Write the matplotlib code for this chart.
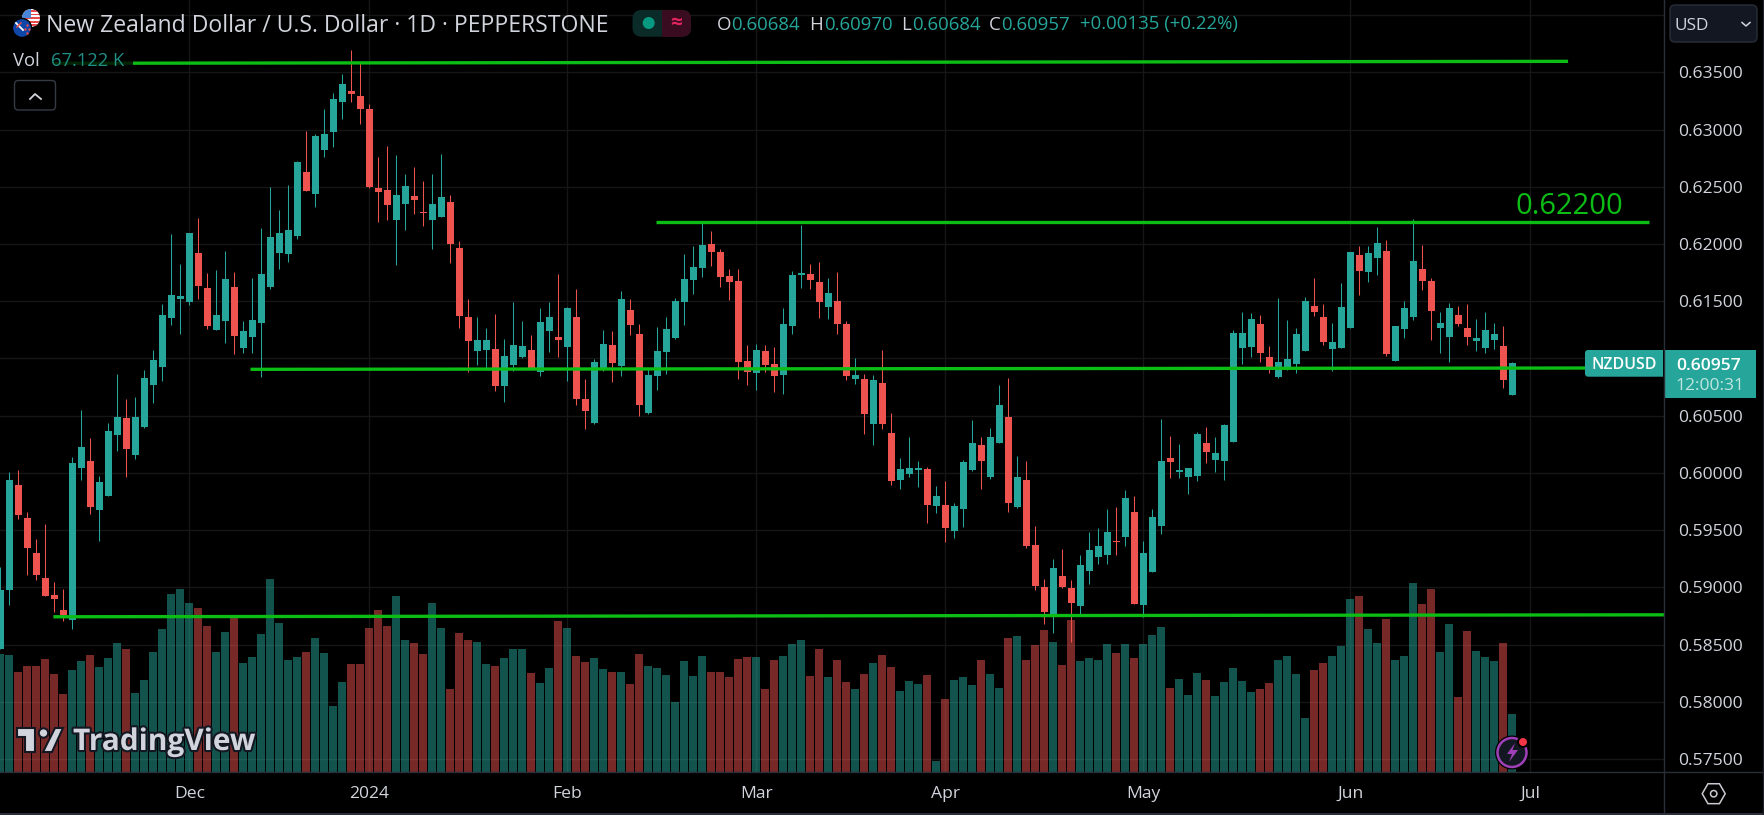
# -*- coding: utf-8 -*-
import numpy as np
import matplotlib as mpl
mpl.use("Agg")
import matplotlib.pyplot as plt
import matplotlib.patheffects as pe
from matplotlib.patches import Circle, Polygon, Rectangle, FancyBboxPatch

# daily NZD/USD candles, prices in 1e-5 units
opens = [58458,58974,59893,59604,59298,59079,58930,58799,58712,60042,
         60103,59674,59797,60331,60479,60156,60401,60768,60926,61354,
         61521,61494,61923,61617,61249,61328,61626,61092,61188,61311,
         61621,61919,61910,62068,62628,62435,62820,62978,63240,63337,
         63293,63179,62488,62470,62208,62348,62418,62284,62213,62239,
         62363,61968,61364,61067,61075,61084,60760,60944,61014,61075,
         60883,61242,61189,61102,61364,60647,60437,60909,61119,60935,
         61425,61215,60524,60848,61058,61180,61495,61688,61793,62003,
         61933,61723,61679,60979,60874,61067,60953,60857,61285,61732,
         61740,61670,61452,61504,61303,60822,60819,60425,60784,60346,
         59935,59987,60022,60031,59707,59716,59489,59681,60022,60241,
         59961,60259,60486,59699,59935,59366,59007,58745,59095,58998,
         58841,59147,59261,59279,59401,59436,59655,58850,59130,59532,
         60127,60005,59961,59970,60259,60110,60101,60270,61093,61102,
         61303,61014,60839,60909,60953,61067,61460,61364,61084,61093,
         61268,61907,61758,61880,61942,60979,61259,61364,61784,61679,
         61268,61189,61382,61268,61154,61093,61163,61110,60684]
highs = [59178,60007,60024,59657,59420,59552,59044,58983,60138,60549,
         60304,59972,60436,60864,60646,60663,60899,61074,61477,62090,
         61827,62098,62230,61748,61775,61941,61757,61328,61705,62142,
         62497,62295,62514,62724,62987,62960,63179,63319,63485,63695,
         63590,63223,62759,62855,62777,62610,62672,62547,62608,62783,
         62424,62029,61522,61364,61268,61390,61172,61495,61329,61207,
         61443,61495,61740,61452,61609,60822,60997,61250,61242,61592,
         61522,61303,60909,61277,61364,61530,61915,61985,62195,62117,
         61959,61784,61784,61119,61128,61119,61102,61443,61767,62169,
         61828,61845,61705,61758,61329,61005,60862,60854,61072,60521,
         60127,60311,60101,60049,59882,59926,59734,60110,60460,60311,
         60390,60766,60827,60145,60101,59532,59069,59252,59331,59060,
         59287,59480,59515,59681,59699,59847,59795,59401,59681,60469,
         60320,60250,60040,60355,60399,60311,60425,61250,61408,61399,
         61382,61110,61530,61338,61268,61539,61705,61478,61312,61662,
         61933,61985,61985,62152,62038,61285,61504,62222,61994,61705,
         61408,61487,61460,61478,61347,61408,61312,61285,60970]
lows = [58458,58843,59596,59105,59062,58922,58782,58703,58633,59937,
        59639,59403,59797,60191,59963,60121,60392,60611,60803,61293,
        61214,61468,61521,61258,61249,61136,61039,61048,61048,60838,
        61604,61779,61840,62042,62462,62322,62759,62847,63092,63240,
        63048,62488,62190,62208,61814,62120,62260,62160,61959,62239,
        61837,61268,60883,60944,60900,60717,60620,60892,61005,60900,
        60848,61058,61014,60804,60594,60384,60428,60892,60795,60848,
        61207,60498,60515,60725,60865,61172,61294,61565,61714,61810,
        61627,61513,60822,60769,60725,60883,60708,60690,61215,61618,
        61609,61355,61347,61215,60813,60778,60337,60241,60381,59891,
        59856,59961,59874,59559,59646,59392,59427,59524,60014,59856,
        59944,60259,59655,59690,59340,58981,58683,58599,58990,58520,
        58753,59025,59200,59200,59287,59357,58858,58739,59130,59462,
        59952,59952,59812,59926,60084,60005,59935,60270,60953,61014,
        60970,60874,60830,60900,60874,61067,61373,61119,60892,61093,
        61268,61557,61670,61732,61023,60979,61180,61338,61600,61163,
        61049,60970,61285,61119,61067,61049,61084,60743,60684]
closes = [58974,59937,59631,59342,59105,58922,58895,58755,60086,60226,
          59701,59919,60366,60488,60208,60488,60829,60987,61381,61556,
          61547,62098,61635,61284,61381,61696,61197,61241,61337,61740,
          62059,62094,62120,62715,62462,62943,62960,63267,63398,63310,
          63179,62497,62453,62339,62427,62505,62383,62267,62346,62407,
          62003,61373,61154,61163,61163,60760,61023,61119,61110,60900,
          61320,61364,61163,61443,60647,60542,60970,61128,60962,61522,
          61294,60594,60857,61067,61259,61504,61697,61802,61994,61933,
          61714,61670,60970,60883,61075,60944,60848,61303,61732,61749,
          61688,61495,61574,61303,60848,60857,60512,60810,60425,59926,
          60031,60040,60040,59716,59795,59515,59707,60092,60259,60101,
          60311,60591,59734,59961,59357,59016,58788,59165,59007,58867,
          59191,59322,59357,59480,59392,59777,58858,59296,59611,60101,
          60092,60022,60040,60337,60180,60171,60416,61224,61224,61347,
          61049,60909,60970,60997,61215,61504,61408,61145,61145,61452,
          61933,61767,61924,62012,61040,61285,61443,61854,61679,61417,
          61312,61443,61303,61189,61180,61250,61215,60813,60957]
# volume in thousands
volumes = [135.8,134.6,115.1,122.0,122.0,130.0,112.8,89.8,117.4,127.7,
           134.6,120.8,131.2,148.5,141.5,90.9,105.9,138.1,164.6,204.8,
           210.6,194.5,188.7,168.0,138.1,161.1,180.7,125.4,132.3,158.8,
           222.1,171.5,128.9,132.3,138.1,154.2,136.9,76.0,103.6,124.3,
           124.3,165.7,186.4,168.0,202.5,151.9,148.5,136.2,194.9,166.1,
           95.9,160.3,152.3,150.0,124.7,122.4,131.6,141.9,141.9,114.3,
           102.8,120.1,174.2,166.1,133.9,127.0,131.6,118.9,115.5,115.5,
           101.7,136.2,122.4,120.1,112.0,80.9,128.1,110.9,133.9,115.5,
           115.5,109.7,130.4,132.7,132.7,95.9,129.3,133.9,147.7,152.3,
           110.9,141.9,109.7,129.3,104.0,95.9,113.2,125.8,135.0,121.2,
           93.6,105.1,101.7,112.0,13.0,84.4,106.3,109.7,100.5,129.3,
           113.2,97.0,154.6,156.9,129.3,146.5,163.8,150.0,123.5,175.3,
           128.1,131.6,129.3,147.7,137.3,147.7,131.6,147.7,158.0,167.2,
           97.0,107.4,89.0,114.3,106.3,87.8,104.0,120.1,105.1,92.4,
           95.9,102.8,129.3,133.9,113.2,62.5,117.8,125.8,133.9,145.4,
           199.5,202.9,164.9,148.8,176.5,129.3,133.9,217.9,193.7,211.0,
           138.5,170.7,86.7,162.6,139.6,132.7,128.1,148.8,67.1]

month_labels = ["Dec", "2024", "Feb", "Mar", "Apr", "May", "Jun", "Jul"]
month_bars = [21, 41, 63, 84, 105, 127, 150, 170]
price_ticks = [0.635, 0.63, 0.625, 0.62, 0.615, 0.605, 0.60, 0.595, 0.59, 0.585, 0.58, 0.575]
grid_prices = [0.64, 0.635, 0.63, 0.625, 0.62, 0.615, 0.61, 0.605, 0.60, 0.595, 0.59, 0.585, 0.58, 0.575]

# hand drawn trend lines: bar start, bar end, price start, price end
line_x0 = [5.9, 72.9, 27.8, 5.9]
line_x1 = [174.2, 183.2, 184.9, 184.9]
line_p0 = [0.63579, 0.62189, 0.60905, 0.58743]
line_p1 = [0.63596, 0.62189, 0.60917, 0.58760]

W, H = 1765, 815
UP, DOWN = "#26a69a", "#ef5350"
GREEN = "#0bbd14"
TXT = "#d1d4dc"
GRID = "#161616"
plt.rcParams["font.family"] = ["Open Sans", "DejaVu Sans"]

o = np.array(opens) / 1e5
h = np.array(highs) / 1e5
l = np.array(lows) / 1e5
c = np.array(closes) / 1e5
x = np.arange(len(o))
cols = [UP if c[i] >= o[i] else DOWN for i in x]

fig = plt.figure(figsize=(W / 100, H / 100), dpi=100, facecolor="black")
rect = [0, 1 - 772.3 / H, 1664 / W, 772.3 / H]

# grid sits on its own axes under the volume bars
axg = fig.add_axes(rect, facecolor="black", zorder=0)
axg.set_xlim(-0.033, 184.86)
axg.set_ylim(0.57384, 0.64132)
axg.axis("off")
for p in grid_prices:
    axg.axhline(p, color=GRID, lw=1)
for b in month_bars:
    axg.axvline(b, color=GRID, lw=1)

axv = fig.add_axes(rect, facecolor="none", zorder=1)
axv.bar(x, volumes, width=0.89, color=cols, alpha=0.5, linewidth=0)
axv.set_xlim(-0.033, 184.86)
axv.set_ylim(0, 889)
axv.axis("off")

ax = fig.add_axes(rect, facecolor="none", zorder=2)
ax.set_xlim(-0.033, 184.86)
ax.set_ylim(0.57384, 0.64132)
ax.axis("off")
ax.vlines(x, l, h, colors=cols, lw=0.75, zorder=3)
ax.bar(x, np.abs(c - o), bottom=np.minimum(o, c), width=0.78, color=cols, linewidth=0, zorder=4)
for i in range(len(line_x0)):
    ax.plot([line_x0[i], line_x1[i]], [line_p0[i], line_p1[i]], color=GREEN, lw=2.4,
            solid_capstyle="butt", zorder=5)

# overlay in pixels for the terminal furniture
ov = fig.add_axes([0, 0, 1, 1], facecolor="none", zorder=3)
ov.set_xlim(0, W)
ov.set_ylim(H, 0)
ov.axis("off")


def label(px, py, s, color=TXT, size=12.5, ha="left", **kw):
    ov.text(px, py, s, color=color, fontsize=size, ha=ha, va="center", **kw)


def box(x0, y0, x1, y1, fc, ec="none", r=3, lw=1, **kw):
    ov.add_patch(FancyBboxPatch((x0 + r, y0 + r), x1 - x0 - 2 * r, y1 - y0 - 2 * r,
                                boxstyle="round,pad=%g,rounding_size=%g" % (r, r),
                                fc=fc, ec=ec, lw=lw, **kw))


# axis frame
ov.plot([1664, 1664], [0, H], color="#2a2e39", lw=1)
ov.plot([0, W], [772.3, 772.3], color="#2a2e39", lw=1)
ov.plot([0, W], [814, 814], color="#2a2e39", lw=1.5)
ov.plot([1763.5, 1763.5], [0, H], color="#1c1f28", lw=1)

y_of = lambda p: (0.64132 - p) / (0.64132 - 0.57384) * 772.3
for p in price_ticks:
    label(1678, y_of(p) + 2, "%.5f" % p, size=12.6)
x_of = lambda b: (b + 0.033) / (184.86 + 0.033) * 1664
for b, s in zip(month_bars, month_labels):
    label(x_of(b), 794, s, size=12.6, ha="center")

# last price tags
ov.add_patch(Rectangle((1664, 350), 92, 47.7, fc=UP, ec="none"))
box(1585, 350, 1668, 376.7, UP, r=3)
ov.add_patch(Rectangle((1663, 350), 1.4, 27, fc="black", ec="none"))
label(1624, 365, "NZDUSD", color="white", size=11.4, ha="center", fontweight="semibold")
label(1709, 366, "0.60957", color="white", size=12.6, ha="center", fontweight="semibold")
label(1710, 386, "12:00:31", color="#bfe4df", size=12.6, ha="center")

# header
label(46, 26, "New Zealand Dollar / U.S. Dollar · 1D · PEPPERSTONE", size=16.6)
ov.add_patch(Rectangle((8, 40), 125, 30, fc="black", ec="none", alpha=0.8, zorder=6))
label(13, 61, "Vol", size=13.2, zorder=7)
label(51, 61, "67.122 K", color="#1f8f86", size=13.2, zorder=7)
box(14.5, 80.5, 55.5, 110, "black", ec="#363a45", r=4)
ov.plot([30, 35, 41], [99, 94, 99], color=TXT, lw=1.3)

box(632.5, 10, 691, 36.7, "#0b2b28", r=9)
ov.add_patch(Rectangle((662, 10), 20, 26.7, fc="#3a0c20", ec="none"))
box(662, 10, 691, 36.7, "#3a0c20", r=9)
ov.add_patch(Circle((648.7, 23), 6, fc="#089981", ec="none"))
label(676, 23, "≈", color="#e0245e", size=15, ha="center", fontweight="bold")

for px, s, col in [(717, "O", TXT), (731, "0.60684", UP), (809, "H", TXT), (824, "0.60970", UP),
                   (901, "L", TXT), (912, "0.60684", UP), (989, "C", TXT), (1001, "0.60957", UP),
                   (1080, "+0.00135 (+0.22%)", UP)]:
    label(px, 24.5, s, color=col, size=13.4)

# pair flags
us = Circle((31, 18), 9, fc="white", ec="none")
ov.add_patch(us)
for k in range(5):
    r_ = ov.add_patch(Rectangle((22, 10 + k * 3.6), 18, 1.8, fc="#e8474c", ec="none"))
    r_.set_clip_path(us)
cant = ov.add_patch(Rectangle((22, 9), 9, 9, fc="#4a86d8", ec="none"))
cant.set_clip_path(us)
nz = Circle((22, 28), 9.5, fc="#0f47a8", ec="black", lw=1)
ov.add_patch(nz)
ov.plot([16, 23], [23, 30], color="white", lw=1.3)
ov.plot([17, 21], [27, 23], color="#e8474c", lw=1.1)
ov.scatter([27, 25, 29, 27], [25, 29, 29, 33], s=3, color="#e8474c", linewidths=0, zorder=5)

# currency selector
box(1670, 5, 1757, 42, "#131722", ec="#2a2e39", r=5)
label(1675, 25.5, "USD", size=12.4)
ov.plot([1742, 1746, 1750], [22.5, 26, 22.5], color=TXT, lw=1.1)

label(1569, 206, "0.62200", color=GREEN, size=21, ha="center")

# watermark
dark = "#131722"
wm = [pe.withStroke(linewidth=3, foreground=dark)]
for pts in ([(17, 728), (35, 728), (35, 752), (25, 752), (25, 737), (17, 737)],
            [(63, 728), (55, 728), (43, 752), (52, 752)]):
    ov.add_patch(Polygon(pts, fc=TXT, ec=dark, lw=1.5, zorder=6))
ov.add_patch(Circle((43.5, 733), 4.7, fc=TXT, ec=dark, lw=1.5, zorder=6))
label(73, 742, "TradingView", size=21.5, fontweight="bold", path_effects=wm, zorder=6)

# lightning badge
ov.add_patch(Circle((1512, 752.5), 17, fc="black", ec="none", zorder=6))
ov.add_patch(Circle((1512, 752.5), 14.5, fc="#131722", ec="#a040b8", lw=1.8, zorder=7))
ov.add_patch(Polygon([(1515, 743), (1507, 754), (1512, 754), (1509, 762), (1518, 750), (1512.5, 750)],
                     fc="#a040b8", ec="none", zorder=8))
ov.add_patch(Circle((1523, 742), 6, fc="black", ec="none", zorder=8))
ov.add_patch(Circle((1523, 742), 4, fc="#f23645", ec="none", zorder=9))

# settings hexagon
hx = 1713.7 + 11.5 * np.cos(np.arange(6) * np.pi / 3)
hy = 793.7 + 11.5 * np.sin(np.arange(6) * np.pi / 3)
ov.add_patch(Polygon(np.c_[hx, hy], fc="none", ec="#c8cad0", lw=1.1))
ov.add_patch(Circle((1713.7, 793.7), 3.2, fc="none", ec="#c8cad0", lw=1.1))

fig.savefig("out.png", dpi=100, facecolor="black")
